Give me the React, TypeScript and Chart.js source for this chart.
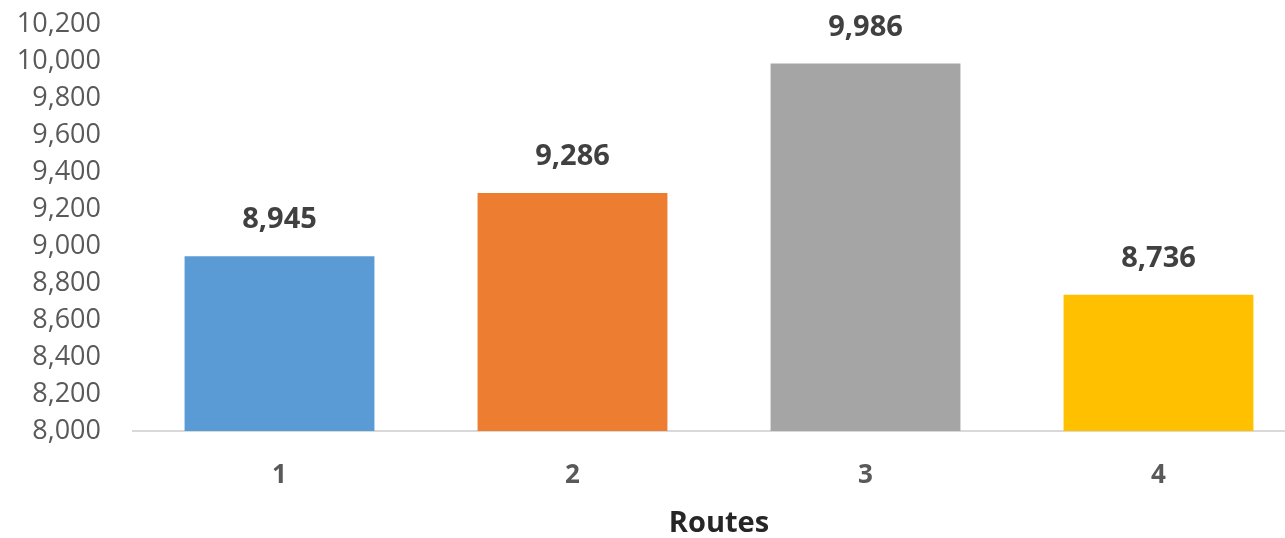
import React, { useEffect, useRef } from "react";
import { Chart, registerables } from "chart.js";

Chart.register(...registerables);

const categories = ["1", "2", "3", "4"];
const values = [8945, 9286, 9986, 8736];
const barColors = ["#5B9BD5", "#ED7D31", "#A5A5A5", "#FFC000"];
const yMin = 8000;
const yMax = 10200;
const yStep = 200;
const xTitle = "Routes";

const FONT = "'Open Sans', sans-serif";

const fmt = (v: number) => v.toLocaleString("en-US");

const dataLabelPlugin = {
  id: "dataLabels",
  afterDatasetsDraw(chart: any) {
    const ctx = chart.ctx;
    const meta = chart.getDatasetMeta(0);
    ctx.save();
    ctx.font = `bold 29px ${FONT}`;
    ctx.fillStyle = "#404040";
    ctx.textAlign = "center";
    ctx.textBaseline = "middle";
    meta.data.forEach((bar: any, i: number) => {
      ctx.fillText(fmt(values[i]), bar.x, bar.y - 36);
    });
    ctx.restore();
  },
};

export default function App() {
  const ref = useRef<HTMLCanvasElement | null>(null);
  useEffect(() => {
    if (!ref.current) return;
    const chart = new Chart(ref.current, {
      type: "bar",
      data: {
        labels: categories,
        datasets: [
          {
            data: values,
            backgroundColor: barColors,
            borderWidth: 0,
            categoryPercentage: 1,
            barPercentage: 0.648,
          },
        ],
      },
      options: {
        responsive: false,
        animation: false,
        layout: { padding: { top: 24, left: 0, right: 1, bottom: 0 } },
        plugins: {
          legend: { display: false },
          tooltip: { enabled: false },
        },
        scales: {
          x: {
            grid: { display: false, drawTicks: false },
            border: { display: true, color: "#D9D9D9", width: 2 },
            ticks: {
              color: "#595959",
              font: { family: FONT, size: 26, weight: "bold" },
              padding: 29,
            },
            title: {
              display: true,
              text: xTitle,
              color: "#262626",
              font: { family: FONT, size: 29, weight: "bold" },
              padding: { top: 0, bottom: -3 },
            },
            afterFit: (scale: any) => {
              scale.height = 107;
              scale.paddingLeft = 0;
              scale.paddingRight = 0;
            },
          },
          y: {
            min: yMin,
            max: yMax,
            grid: { display: false, drawTicks: false },
            border: { display: false },
            ticks: {
              stepSize: yStep,
              autoSkip: false,
              color: "#595959",
              font: { family: FONT, size: 27 },
              padding: 32,
              callback: (v: any) => fmt(Number(v)),
            },
            afterFit: (scale: any) => {
              scale.width = 133;
              scale.paddingTop = 0;
              scale.paddingBottom = 0;
            },
          },
        },
      },
      plugins: [dataLabelPlugin],
    });
    return () => chart.destroy();
  }, []);
  return (
    <div
      style={{
        position: "fixed",
        left: 0,
        top: 0,
        width: 1285,
        height: 538,
        overflow: "hidden",
        background: "#fff",
      }}
    >
      <canvas ref={ref} width={1306} height={538} style={{ display: "block" }} />
    </div>
  );
}
